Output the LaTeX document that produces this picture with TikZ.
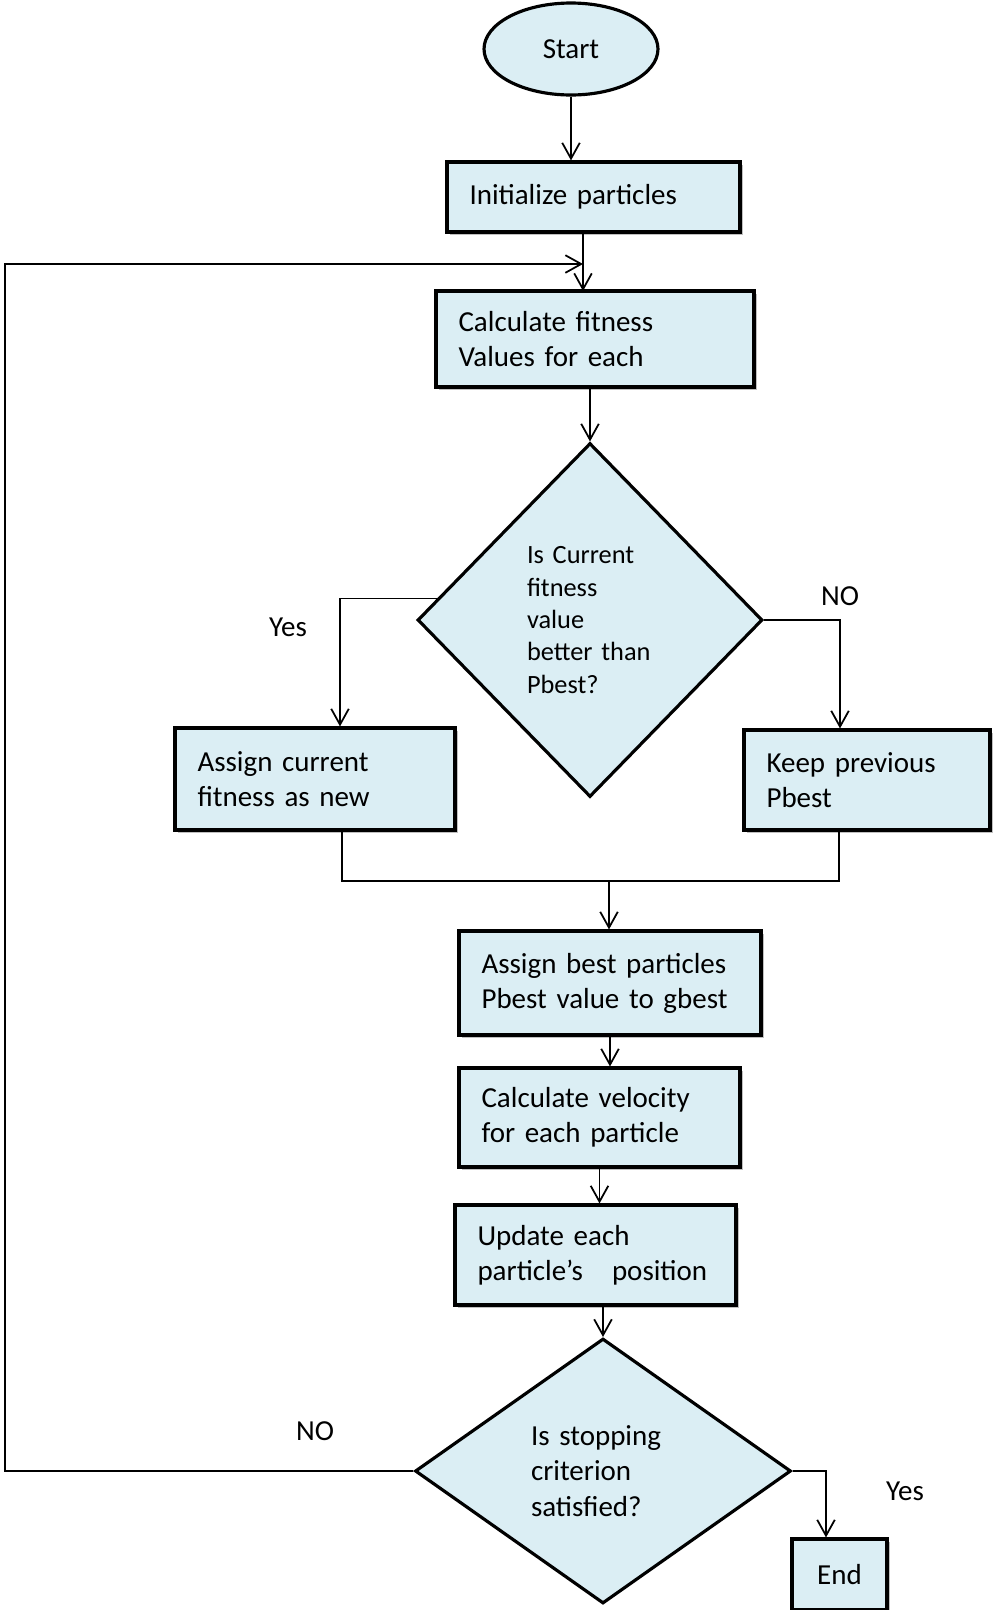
\documentclass[tikz,border=0pt]{standalone}
\usepackage{fontspec}
\setmainfont{Carlito}
\usepackage{tikz}
\usetikzlibrary{shadows,arrows.meta,shapes,positioning}
\tikzset{every shadow/.style={}}
\definecolor{boxfill}{RGB}{219,238,244}
\tikzset{
  procbox/.style={draw, rectangle, fill=boxfill, line width=1.8pt, align=left,
    inner xsep=0.45cm, inner ysep=0pt,
    drop shadow={shadow xshift=0.06cm, shadow yshift=-0.06cm, fill=black, opacity=0.25}},
  decision/.style={draw, diamond, fill=boxfill, line width=1.8pt, align=left, inner sep=0pt},
  terminal/.style={draw, ellipse, fill=boxfill, line width=1.8pt, inner sep=0pt},
  >={Straight Barb[length=9pt,width=10pt]}
}

\begin{document}
\begin{tikzpicture}[x=0.02cm, y=-0.02cm, font=\fontsize{16.5}{20}\selectfont, line width=1pt]
        \useasboundingbox (0,0) rectangle (993,1610);

        \node[terminal, minimum width=3.48cm, minimum height=1.84cm] (start) at (571,49) {Start};
        \node[procbox, text width=4.96cm, minimum height=1.4cm] (init) at (593.5,197) {Initialize particles};
        \node[procbox, text width=5.46cm, minimum height=1.92cm] (calc) at (595,339) {Calculate fitness\\Values for each};
        \node[decision, minimum width=6.9cm, minimum height=7.08cm, text width=2.52cm, font=\fontsize{15}{18.4}\selectfont] (cmp) at (590,620) {Is Current\\fitness\\value\\better than\\Pbest?};
        \node[procbox, text width=4.7cm, minimum height=2.04cm] (assigncur) at (315,779) {Assign current\\fitness as new};
        \node[procbox, text width=4.02cm, minimum height=2.0cm] (keep) at (867,780) {Keep previous\\Pbest};
        \node[procbox, text width=5.14cm, minimum height=2.08cm] (best) at (610,983) {Assign best particles\\Pbest value to gbest};
        \node[procbox, text width=4.72cm, minimum height=1.98cm] (vel) at (599.5,1117.5) {Calculate velocity\\for each particle};
        \node[procbox, text width=4.72cm, minimum height=2.0cm] (upd) at (595.5,1255) {Update each\\particle’s\ \ \ position};
        \node[decision, minimum width=7.52cm, minimum height=5.3cm, text width=2.88cm] (stop) at (603,1471) {Is stopping\\criterion\\satisfied?};
        \node[procbox, text width=1.0cm, minimum height=1.42cm, align=center] (end) at (839.5,1574.5) {End};

        \node (yesa) at (288,627) {Yes};
        \node (noa) at (840,596) {NO};
        \node (nob) at (315,1431) {NO};
        \node (yesb) at (905,1491) {Yes};

        \coordinate (loopin) at (583,291);
        \coordinate (loopcorner) at (5,264);
        \coordinate (merge) at (609,881);

        \draw[->] (start) -- (start |- init.north);
        \draw[->] (init.south -| loopin) -- (loopin);
        \draw[->] (calc.south -| cmp.north) -- (cmp.north);
        \draw[->] (cmp.172) -| ([xshift=0.5cm]assigncur.north);
        \draw[->] (cmp.east) -| ([xshift=-0.54cm]keep.north);
        \draw ([xshift=0.54cm]assigncur.south) |- (merge) -| ([xshift=-0.56cm]keep.south);
        \draw[->] (merge) -- (merge |- best.north);
        \draw[->] (best.south) -- (best.south |- vel.north);
        \draw[->] (vel.south) -- (vel.south |- upd.north);
        \draw[->] (upd.south -| stop.north) -- (stop.north);
        \draw[->] (stop.west) -| (loopcorner) -- (loopcorner -| loopin);
        \draw[->] (stop.east) -| ([xshift=-0.27cm]end.north);
    \end{tikzpicture}
\end{document}
